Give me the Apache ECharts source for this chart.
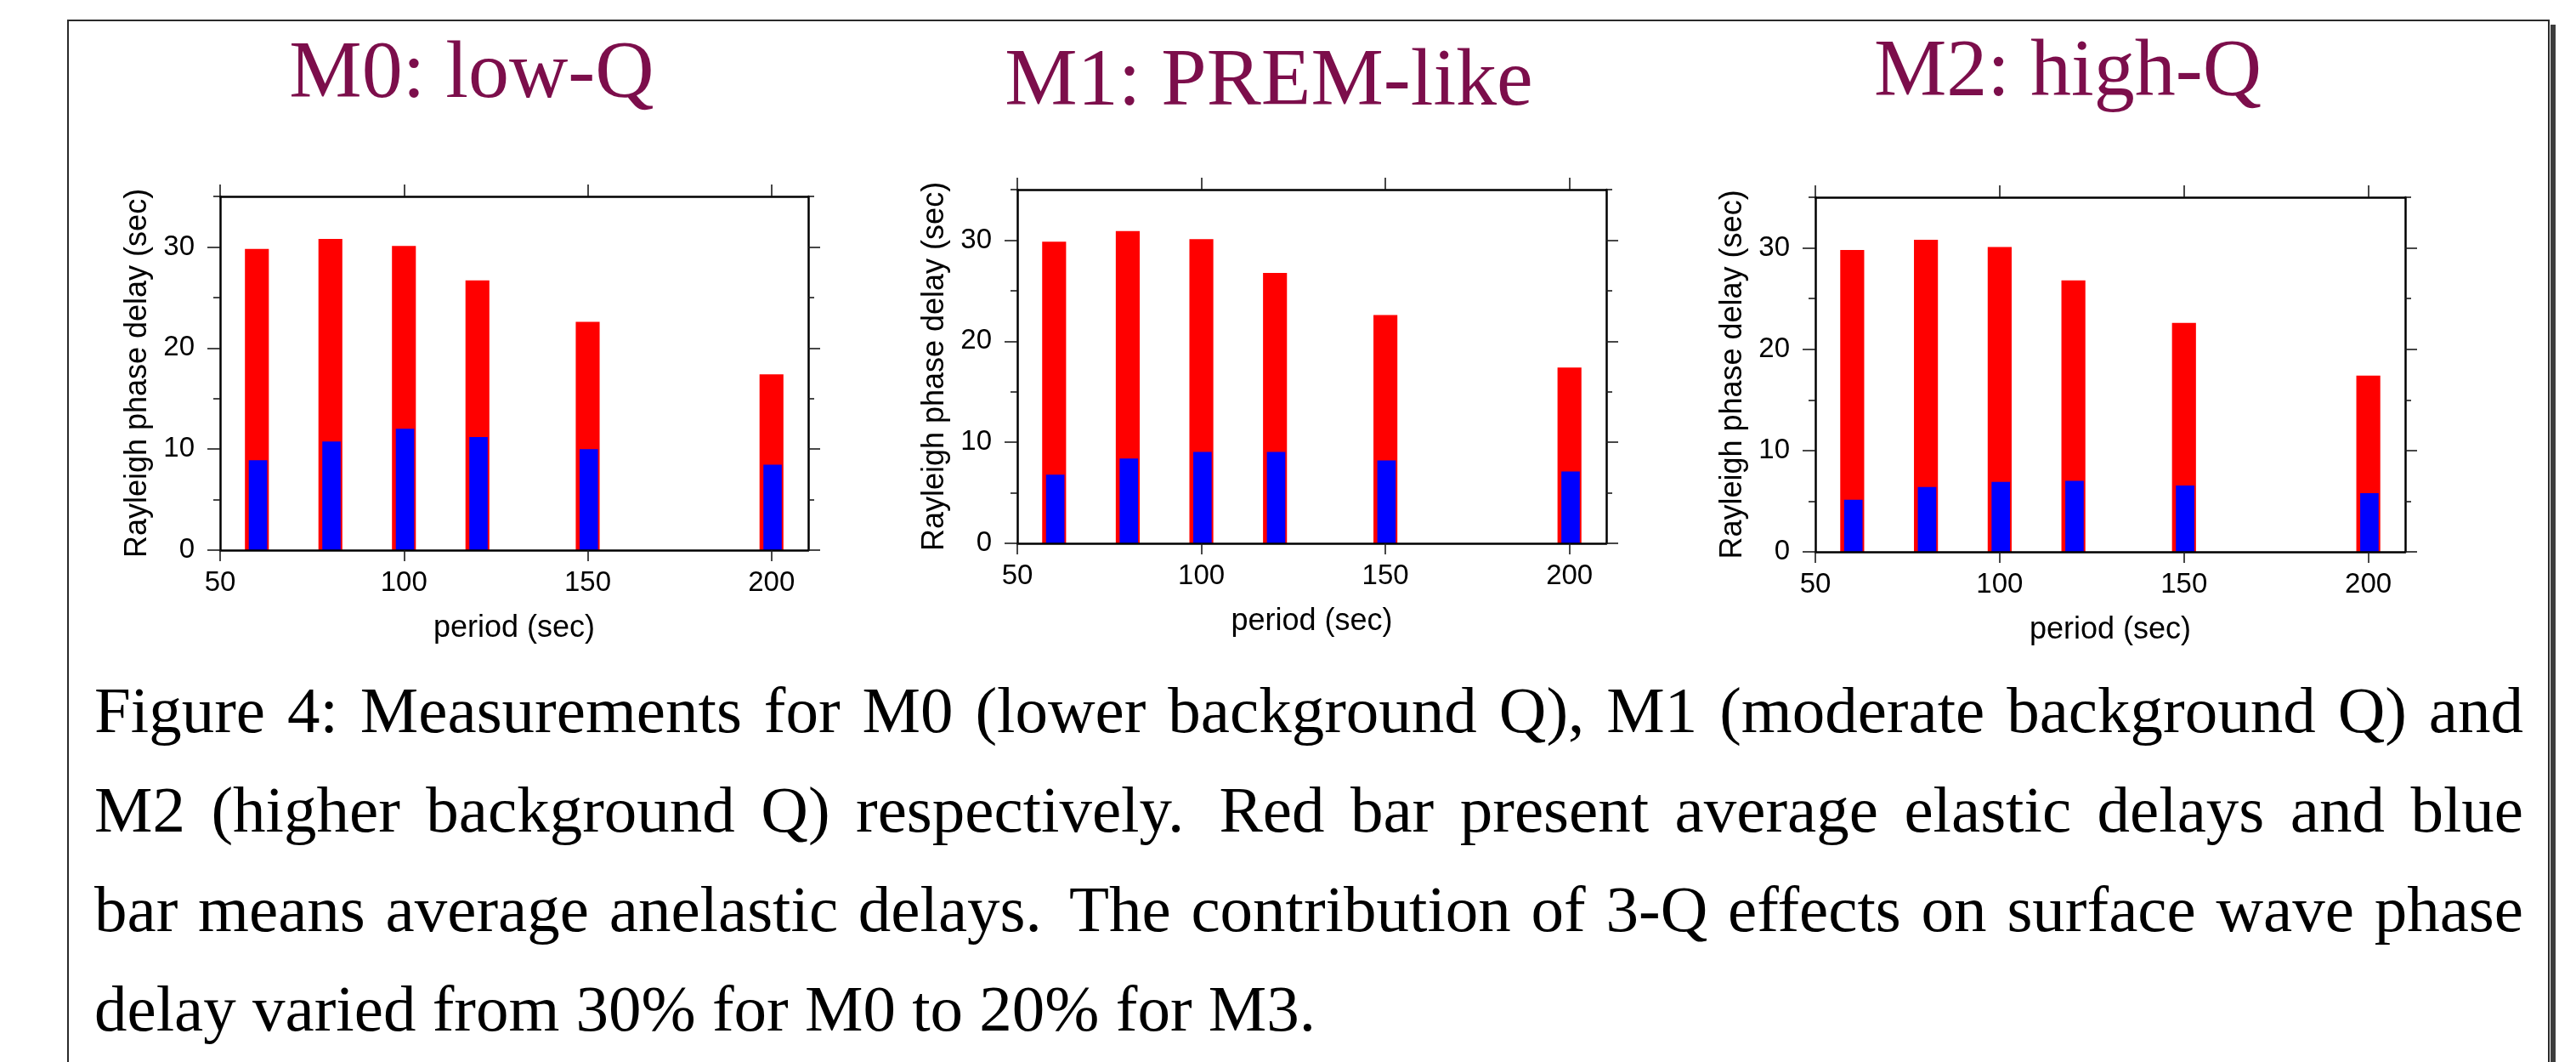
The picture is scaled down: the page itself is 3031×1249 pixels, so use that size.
<!DOCTYPE html>
<html>
<head>
<meta charset="utf-8">
<script src="https://cdn.jsdelivr.net/npm/echarts@6/dist/echarts.min.js"></script>
<style>
  html, body { margin: 0; padding: 0; background: #ffffff; }
  #chart { width: 3031px; height: 1249px; }
</style>
</head>
<body>
<div id="chart"></div>
<script>
// ---------------- data ----------------
const periods = [60, 80, 100, 120, 150, 200];
const elasticM0 = [29.8, 30.8, 30.1, 26.7, 22.6, 17.4];
const anelasticM0 = [8.9, 10.75, 12.0, 11.2, 10.0, 8.45];
const elasticM1 = [29.85, 30.9, 30.1, 26.75, 22.6, 17.4];
const anelasticM1 = [6.8, 8.4, 9.05, 9.05, 8.2, 7.1];
const elasticM2 = [29.8, 30.8, 30.1, 26.8, 22.6, 17.4];
const anelasticM2 = [5.15, 6.4, 6.9, 7.0, 6.55, 5.8];
const panelTitles = ['M0: low-Q', 'M1: PREM-like', 'M2: high-Q'];
const xTickValues = [50, 100, 150, 200];
const yTickValues = [0, 10, 20, 30];
const yMinorTickValues = [5, 15, 25, 35];
const xAxisTitle = 'period (sec)';
const yAxisTitle = 'Rayleigh phase delay (sec)';
const captionLines = [
  'Figure 4: Measurements for M0 (lower background Q), M1 (moderate background Q) and',
  'M2 (higher background Q) respectively.  Red bar present average elastic delays and blue',
  'bar means average anelastic delays. The contribution of 3-Q effects on surface wave phase',
  'delay varied from 30% for M0 to 20% for M3.'
];

// ---------------- layout / style ----------------
const elasticList = [elasticM0, elasticM1, elasticM2];
const anelasticList = [anelasticM0, anelasticM1, anelasticM2];
const grids = [
  { left: 259, top: 231, width: 692, height: 416 },
  { left: 1197, top: 223, width: 693, height: 416 },
  { left: 2136, top: 232, width: 694, height: 417 }
];
const titlePos = [[555, 89], [1493, 98], [2433, 87]];
const SANS = 'Liberation Sans';
const SERIF = 'Liberation Serif';
const RED_W = 6.5, BLUE_W = 5.0, BLUE_SHIFT = 0.3;

function barRenderer(widthUnits, shiftUnits, color) {
  return function (params, api) {
    const x = api.value(0) + shiftUnits;
    const v = api.value(1);
    const top = api.coord([x, v]);
    const base = api.coord([x, 0]);
    const w = api.size([widthUnits, 0])[0];
    return {
      type: 'rect',
      shape: { x: top[0] - w / 2, y: top[1], width: w, height: base[1] - top[1] },
      style: { fill: color }
    };
  };
}

const tickStyle = { color: '#1a1a1a', width: 1.6 };
const lineStyle = { color: '#000', width: 2.5 };
const xAxes = [], yAxes = [], series = [];
grids.forEach((g, i) => {
  const xBase = { gridIndex: i, type: 'value', min: 50, max: 210, interval: 50, splitLine: { show: false }, z: 5 };
  xAxes.push(Object.assign({}, xBase, {
    position: 'bottom',
    axisLine: { show: true, onZero: false, lineStyle: lineStyle },
    axisTick: { show: true, inside: false, length: 13, customValues: xTickValues, lineStyle: tickStyle },
    axisLabel: { show: true, customValues: xTickValues, margin: 22, fontSize: 33, fontFamily: SANS, color: '#000' },
    name: xAxisTitle, nameLocation: 'middle', nameGap: 74,
    nameTextStyle: { fontSize: 36, fontFamily: SANS, color: '#000' }
  }));
  xAxes.push(Object.assign({}, xBase, {
    position: 'top',
    axisLine: { show: true, onZero: false, lineStyle: lineStyle },
    axisTick: { show: true, inside: false, length: 14, customValues: xTickValues, lineStyle: tickStyle },
    axisLabel: { show: false }
  }));
  const yBase = { gridIndex: i, type: 'value', min: 0, max: 35, interval: 5, splitLine: { show: false }, z: 5 };
  yAxes.push(Object.assign({}, yBase, {
    position: 'left',
    axisLine: { show: true, onZero: false, lineStyle: lineStyle },
    axisTick: { show: true, inside: false, length: 15, customValues: yTickValues, lineStyle: tickStyle },
    axisLabel: { show: true, customValues: yTickValues, margin: 30, fontSize: 33, fontFamily: SANS, color: '#000' },
    name: yAxisTitle, nameLocation: 'middle', nameRotate: 90, nameGap: 79,
    nameTextStyle: { fontSize: 36, fontFamily: SANS, color: '#000' }
  }));
  yAxes.push(Object.assign({}, yBase, {
    position: 'left',
    axisLine: { show: false },
    axisTick: { show: true, inside: false, length: 8, customValues: yMinorTickValues, lineStyle: tickStyle },
    axisLabel: { show: false }
  }));
  yAxes.push(Object.assign({}, yBase, {
    position: 'right',
    axisLine: { show: true, onZero: false, lineStyle: lineStyle },
    axisTick: { show: true, inside: false, length: 14, customValues: yTickValues, lineStyle: tickStyle },
    axisLabel: { show: false }
  }));
  yAxes.push(Object.assign({}, yBase, {
    position: 'right',
    axisLine: { show: false },
    axisTick: { show: true, inside: false, length: 7, customValues: yMinorTickValues, lineStyle: tickStyle },
    axisLabel: { show: false }
  }));
  series.push({
    type: 'custom', name: 'elastic', xAxisIndex: 2 * i, yAxisIndex: 4 * i, z: 2,
    renderItem: barRenderer(RED_W, 0, '#ff0000'),
    data: periods.map((p, k) => [p, elasticList[i][k]])
  });
  series.push({
    type: 'custom', name: 'anelastic', xAxisIndex: 2 * i, yAxisIndex: 4 * i, z: 3,
    renderItem: barRenderer(BLUE_W, BLUE_SHIFT, '#0000ff'),
    data: periods.map((p, k) => [p, anelasticList[i][k]])
  });
});

// ---------------- graphics: frame, titles, caption ----------------
const graphics = [];
graphics.push({ type: 'rect', shape: { x: 3001, y: 29, width: 6, height: 1300 }, style: { fill: '#3d3d3d' }, z: 1 });
graphics.push({ type: 'rect', shape: { x: 80, y: 24, width: 2919, height: 1400 }, style: { fill: 'none', stroke: '#2a2a2a', lineWidth: 2 }, z: 1 });
panelTitles.forEach((t, i) => {
  graphics.push({
    type: 'text', x: titlePos[i][0], y: titlePos[i][1], z: 10,
    style: { text: t, fontFamily: SERIF, fontSize: 96, fill: '#7c0e4b', align: 'center', verticalAlign: 'middle' }
  });
});

const CAP_SIZE = 77, CAP_LEFT = 111, CAP_RIGHT = 2969;
const capCenters = [840.6, 957.6, 1074.6, 1191.6];
const mctx = document.createElement('canvas').getContext('2d');
mctx.font = CAP_SIZE + 'px "' + SERIF + '"';
captionLines.forEach((line, li) => {
  const y = capCenters[li];
  const isLast = li === captionLines.length - 1;
  if (isLast) {
    graphics.push({ type: 'text', x: CAP_LEFT, y: y, z: 10,
      style: { text: line, fontFamily: SERIF, fontSize: CAP_SIZE, fill: '#000', align: 'left', verticalAlign: 'middle' } });
    return;
  }
  const words = line.split(/ +/);
  const widths = words.map(w => mctx.measureText(w).width);
  const total = widths.reduce((a, b) => a + b, 0);
  const weights = [];
  for (let k = 0; k < words.length - 1; k++) weights.push(/\.$/.test(words[k]) ? 1.35 : 1);
  const wsum = weights.reduce((a, b) => a + b, 0);
  const free = CAP_RIGHT - CAP_LEFT - total;
  let x = CAP_LEFT;
  words.forEach((w, k) => {
    graphics.push({ type: 'text', x: x, y: y, z: 10,
      style: { text: w, fontFamily: SERIF, fontSize: CAP_SIZE, fill: '#000', align: 'left', verticalAlign: 'middle' } });
    x += widths[k] + (k < weights.length ? free * weights[k] / wsum : 0);
  });
});

const chart = echarts.init(document.getElementById('chart'), null, { renderer: 'canvas' });
chart.setOption({
  animation: false,
  backgroundColor: '#ffffff',
  grid: grids,
  xAxis: xAxes,
  yAxis: yAxes,
  series: series,
  graphic: { elements: graphics }
});
</script>
</body>
</html>
